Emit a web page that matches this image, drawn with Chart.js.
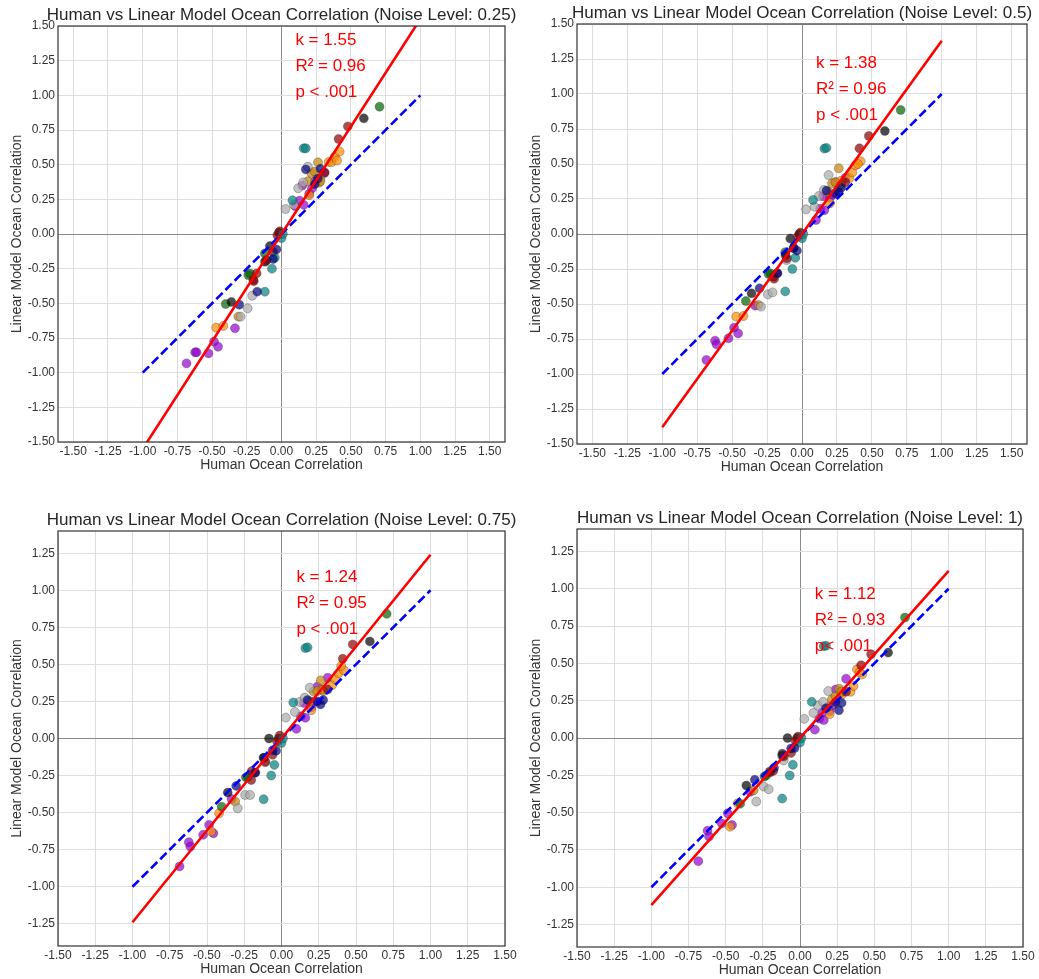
<!DOCTYPE html>
<html>
<head>
<meta charset="utf-8">
<script src="https://cdn.jsdelivr.net/npm/chart.js@4.4.1/dist/chart.umd.min.js"></script>
<style>
  body { margin: 0; background: #fff; }
  .panel { position: absolute; }
</style>
</head>
<body>
<div class="panel" style="left:0;top:0;width:520px;height:490px"><canvas id="panel1"></canvas></div>
<div class="panel" style="left:519px;top:0;width:520px;height:490px"><canvas id="panel2"></canvas></div>
<div class="panel" style="left:0;top:490px;width:520px;height:489px"><canvas id="panel3"></canvas></div>
<div class="panel" style="left:519px;top:490px;width:520px;height:489px"><canvas id="panel4"></canvas></div>
<script>
// groups: 0 purple, 1 orange, 2 goldenrod, 3 gray, 4 green, 5 black, 6 darkred, 7 teal, 8 navy
var groupColors = [
  "rgba(148,0,211,0.7)", "rgba(255,140,0,0.7)", "rgba(200,140,20,0.75)",
  "rgba(169,169,169,0.7)", "rgba(0,100,0,0.7)", "rgba(0,0,0,0.7)",
  "rgba(139,0,0,0.7)", "rgba(0,128,128,0.7)", "rgba(0,0,128,0.7)"
];

var pointGroup = [
  0,0,0,0,0,0,0,0,0,0,0,0,0,0,0,
  1,1,1,1,1,1,1,1,1,1,
  2,2,2,2,2,2,
  3,3,3,3,3,3,3,3,3,
  4,4,4,4,4,
  5,5,5,5,5,
  6,6,6,6,6,6,6,6,6,6,
  7,7,7,7,7,7,7,7,
  8,8,8,8,8,8,8,8
];

var humanCorr = [
  -0.684, -0.622, -0.612, -0.526, -0.486, -0.457, -0.335, 0.10, 0.13, 0.16, 0.20, 0.22, 0.24, 0.31, 0.15,
  -0.471, -0.419, 0.20, 0.27, 0.34, 0.36, 0.383, 0.419, 0.40, 0.28,
  -0.311, 0.263, 0.215, 0.24, 0.28, 0.19,
  -0.294, -0.244, -0.211, 0.029, 0.12, 0.156, 0.19, 0.09, -0.11,
  0.706, -0.402, -0.239, -0.227, -0.12,
  0.593, -0.361, -0.084, -0.119, -0.02,
  0.478, 0.411, 0.31, -0.203, -0.179, -0.108, -0.012, -0.03, -0.06, -0.20,
  0.16, 0.175, 0.079, -0.12, -0.069, -0.048, 0.0, 0.01,
  -0.304, -0.175, -0.06, -0.036, 0.175, 0.28, 0.262, 0.24
];

var modelNoise025 = [
  -0.933, -0.853, -0.853, -0.861, -0.776, -0.813, -0.68, 0.20, 0.24, 0.21, 0.29, 0.33, 0.38, 0.44, 0.35,
  -0.675, -0.663, 0.28, 0.37, 0.52, 0.517, 0.558, 0.594, 0.53, 0.40,
  -0.596, 0.517, 0.44, 0.45, 0.38, 0.38,
  -0.596, -0.536, -0.445, 0.18, 0.33, 0.372, 0.486, 0.21, -0.19,
  0.918, -0.505, -0.296, -0.285, -0.14,
  0.834, -0.49, -0.087, -0.20, 0.01,
  0.776, 0.685, 0.445, -0.332, -0.284, -0.188, 0.02, -0.01, -0.13, -0.34,
  0.618, 0.618, 0.243, -0.416, -0.25, -0.171, -0.03, 0.0,
  -0.51, -0.416, -0.18, -0.111, 0.466, 0.47, 0.40, 0.36
];

var modelNoise05 = [
  -0.90, -0.762, -0.788, -0.745, -0.669, -0.71, -0.512, 0.10, 0.18, 0.17, 0.26, 0.28, 0.37, 0.40, 0.27,
  -0.59, -0.586, 0.22, 0.35, 0.40, 0.44, 0.49, 0.52, 0.50, 0.38,
  -0.507, 0.469, 0.362, 0.37, 0.35, 0.30,
  -0.519, -0.431, -0.417, 0.176, 0.271, 0.314, 0.421, 0.195, -0.186,
  0.886, -0.479, -0.286, -0.28, -0.13,
  0.736, -0.424, -0.033, -0.15, 0.0,
  0.70, 0.612, 0.37, -0.305, -0.28, -0.174, 0.01, -0.02, -0.10, -0.32,
  0.61, 0.615, 0.243, -0.41, -0.25, -0.17, -0.03, 0.0,
  -0.388, -0.28, -0.10, -0.119, 0.31, 0.33, 0.30, 0.29
];

var modelNoise075 = [
  -0.863, -0.70, -0.729, -0.65, -0.583, -0.639, -0.408, 0.065, 0.15, 0.14, 0.21, 0.25, 0.35, 0.41, 0.24,
  -0.628, -0.505, 0.19, 0.33, 0.36, 0.40, 0.44, 0.46, 0.49, 0.32,
  -0.426, 0.392, 0.318, 0.32, 0.33, 0.25,
  -0.471, -0.381, -0.381, 0.141, 0.247, 0.276, 0.343, 0.179, -0.16,
  0.841, -0.46, -0.262, -0.26, -0.13,
  0.655, -0.365, 0.0, -0.13, 0.0,
  0.635, 0.538, 0.33, -0.28, -0.231, -0.157, 0.02, -0.02, -0.11, -0.22,
  0.61, 0.615, 0.243, -0.41, -0.25, -0.178, -0.03, 0.0,
  -0.32, -0.23, -0.08, -0.083, 0.26, 0.26, 0.23, 0.25
];

var modelNoise1 = [
  -0.825, -0.621, -0.66, -0.572, -0.504, -0.583, -0.36, 0.056, 0.13, 0.12, 0.18, 0.22, 0.325, 0.397, 0.17,
  -0.594, -0.437, 0.16, 0.30, 0.31, 0.348, 0.46, 0.426, 0.44, 0.29,
  -0.35, 0.33, 0.26, 0.28, 0.31, 0.21,
  -0.426, -0.325, -0.343, 0.128, 0.217, 0.242, 0.314, 0.168, -0.15,
  0.807, -0.44, -0.258, -0.25, -0.12,
  0.572, -0.318, 0.0, -0.105, 0.0,
  0.561, 0.487, 0.31, -0.224, -0.22, -0.123, 0.01, -0.02, -0.10, -0.23,
  0.615, 0.618, 0.242, -0.406, -0.251, -0.179, -0.03, 0.0,
  -0.28, -0.20, -0.07, -0.067, 0.20, 0.235, 0.186, 0.24
];

var noiseLevels = ["0.25", "0.5", "0.75", "1"];
var slopes = [1.55, 1.38, 1.24, 1.12];
var rSquared = ["0.96", "0.96", "0.95", "0.93"];
var pValues = ["p < .001", "p < .001", "p < .001", "p< .001"];
var fitRange = [-1, 1];

var xTicks = [-1.5, -1.25, -1, -0.75, -0.5, -0.25, 0, 0.25, 0.5, 0.75, 1, 1.25, 1.5];
var yTicksWide = [-1.5, -1.25, -1, -0.75, -0.5, -0.25, 0, 0.25, 0.5, 0.75, 1, 1.25, 1.5];
var yTicksNarrow = [-1.25, -1, -0.75, -0.5, -0.25, 0, 0.25, 0.5, 0.75, 1, 1.25];

var FONT = "'Liberation Sans', Arial, sans-serif";

var panelTitle = {
  id: 'panelTitle',
  afterDraw: function(chart) {
    var ctx = chart.ctx, a = chart.chartArea;
    ctx.save();
    ctx.fillStyle = '#262626';
    ctx.font = '17px ' + FONT;
    ctx.textAlign = 'center';
    ctx.textBaseline = 'middle';
    ctx.fillText(chart.options.plugins.panelTitle.text, (a.left + a.right) / 2, a.top - 11);
    ctx.restore();
  }
};

var frameAndStats = {
  id: 'frameAndStats',
  afterDatasetsDraw: function(chart) {
    var o = chart.options.plugins.frameAndStats;
    var ctx = chart.ctx, a = chart.chartArea;
    var sx = chart.scales.x, sy = chart.scales.y;
    ctx.save();
    ctx.strokeStyle = '#333';
    ctx.lineWidth = 1.2;
    ctx.strokeRect(a.left, a.top, a.right - a.left, a.bottom - a.top);
    ctx.fillStyle = 'red';
    ctx.font = '17px ' + FONT;
    ctx.textAlign = 'left';
    ctx.textBaseline = 'middle';
    var px = sx.getPixelForValue(0.1);
    var py = sy.getPixelForValue(o.textY);
    o.lines.forEach(function(t, i) { ctx.fillText(t, px, py + i * 26); });
    ctx.restore();
  }
};

function makePanel(id, i, model, xLim, yLim, yTicks, pad, textY) {
  var pts = humanCorr.map(function(x, j) { return { x: x, y: model[j] }; });
  var gridColor = function(c) { return c.tick && c.tick.value === 0 ? '#8a8a8a' : '#dedede'; };
  var fmt = function(v) { return Number(v).toFixed(2); };
  new Chart(document.getElementById(id), {
    type: 'scatter',
    data: {
      datasets: [{
        type: 'line',
        data: fitRange.map(function(x) { return { x: x, y: slopes[i] * x }; }),
        borderColor: 'red',
        borderWidth: 2.6,
        pointRadius: 0,
        fill: false
      }, {
        type: 'line',
        data: fitRange.map(function(x) { return { x: x, y: x }; }),
        borderColor: 'blue',
        borderWidth: 2.6,
        borderDash: [9, 4],
        pointRadius: 0,
        fill: false
      }, {
        data: pts,
        backgroundColor: pointGroup.map(function(g) { return groupColors[g]; }),
        borderColor: 'rgba(50,50,50,0.55)',
        borderWidth: 0.6,
        pointRadius: 4.5
      }]
    },
    options: {
      responsive: true,
      maintainAspectRatio: false,
      animation: false,
      layout: { padding: pad },
      plugins: {
        legend: { display: false },
        tooltip: { enabled: false },
        panelTitle: { text: 'Human vs Linear Model Ocean Correlation (Noise Level: ' + noiseLevels[i] + ')' },
        frameAndStats: {
          textY: textY,
          lines: ['k = ' + slopes[i].toFixed(2), 'R\u00b2 = ' + rSquared[i], pValues[i]]
        }
      },
      scales: {
        x: {
          type: 'linear',
          min: -xLim, max: xLim,
          afterBuildTicks: function(s) { s.ticks = xTicks.map(function(v) { return { value: v }; }); },
          afterFit: function(s) { s.height = 32; s.paddingLeft = 0; s.paddingRight = 0; },
          ticks: { callback: fmt, font: { family: FONT, size: 12 }, color: '#333', padding: 2, maxRotation: 0, autoSkip: false },
          grid: { color: gridColor, drawTicks: false, lineWidth: 1 },
          border: { display: false },
          title: { display: true, text: 'Human Ocean Correlation', font: { family: FONT, size: 14 }, color: '#333', padding: { top: 0, bottom: 0 } }
        },
        y: {
          type: 'linear',
          min: -yLim, max: yLim,
          afterBuildTicks: function(s) { s.ticks = yTicks.map(function(v) { return { value: v }; }); },
          afterFit: function(s) { s.width = 58; },
          ticks: { callback: fmt, font: { family: FONT, size: 12 }, color: '#333', padding: 3, autoSkip: false },
          grid: { color: gridColor, drawTicks: false, lineWidth: 1 },
          border: { display: false },
          title: { display: true, text: 'Linear Model Ocean Correlation', font: { family: FONT, size: 14 }, color: '#333', padding: { top: 9, bottom: 0 } }
        }
      }
    },
    plugins: [panelTitle, frameAndStats]
  });
}

makePanel('panel1', 0, modelNoise025, 1.61, 1.5, yTicksWide, { top: 26, right: 15, bottom: 16, left: 0 }, 1.40);
makePanel('panel2', 1, modelNoise05, 1.61, 1.5, yTicksWide, { top: 24, right: 12, bottom: 14, left: 0 }, 1.22);
makePanel('panel3', 2, modelNoise075, 1.5, 1.4, yTicksNarrow, { top: 41, right: 15, bottom: 1, left: 0 }, 1.085);
makePanel('panel4', 3, modelNoise1, 1.5, 1.4, yTicksNarrow, { top: 39, right: 16, bottom: 0, left: 0 }, 0.96);
</script>
</body>
</html>
